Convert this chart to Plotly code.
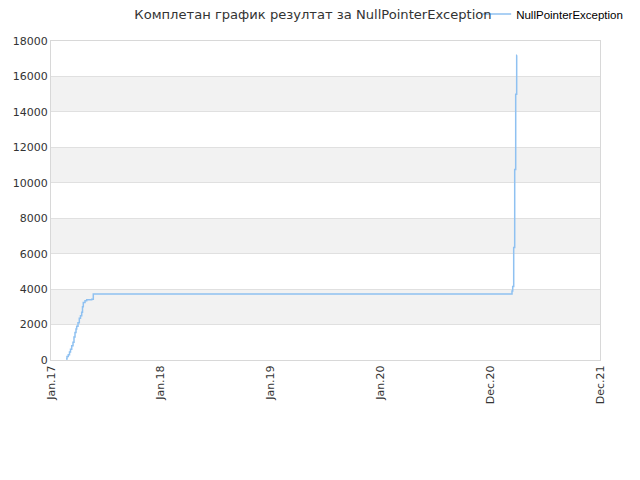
import plotly.graph_objects as go

# x positions in axis units (one unit per labelled tick)
x_pos = [0.1366, 0.1457, 0.1576, 0.1685, 0.1776, 0.1885, 0.2004, 0.2095, 0.2186, 0.2277,
         0.2341, 0.2459, 0.2577, 0.2687, 0.2796, 0.2869, 0.2942, 0.3097, 0.3251, 0.3707,
         0.3852, 4.1985, 4.2049, 4.2140, 4.2231, 4.2322, 4.2413, 4.2441]
values = [50, 200, 300, 450, 600, 800, 1000, 1300, 1550, 1750,
          1900, 2100, 2350, 2500, 2700, 3000, 3250, 3350, 3400, 3430,
          3720, 3900, 4150, 6350, 10750, 15000, 17200, 17200]

tick_vals = [0, 1, 2, 3, 4, 5]
tick_text = ["Jan.17", "Jan.18", "Jan.19", "Jan.20", "Dec.20", "Dec.21"]
y_ticks = [0, 2000, 4000, 6000, 8000, 10000, 12000, 14000, 16000, 18000]
bands = [(2000, 4000), (6000, 8000), (10000, 12000), (14000, 16000)]

fig = go.Figure()
fig.add_trace(go.Scatter(
    x=x_pos, y=values, mode="lines", line_shape="hv",
    line=dict(color="#8fc1f1", width=1.5),
    name="NullPointerException", showlegend=True,
))

shapes = []
for lo, hi in bands:
    shapes.append(dict(type="rect", xref="paper", yref="y", x0=0, x1=1, y0=lo, y1=hi,
                       fillcolor="#f2f2f2", line=dict(width=0), layer="below"))

fig.update_layout(
    width=640, height=480,
    margin=dict(l=43, r=48, t=33, b=128, autoexpand=False),
    paper_bgcolor="white", plot_bgcolor="white",
    font=dict(family="DejaVu Sans", color="#333333"),
    title=dict(text="Комплетан график резултат за NullPointerException",
               xref="container", yref="container",
               x=0.4766, xanchor="center", y=0.9875, yanchor="middle",
               font=dict(family="DejaVu Sans", size=13.1, color="#333333")),
    showlegend=True,
    legend=dict(xref="container", yref="container", x=0.969, xanchor="right",
                y=0.9875, yanchor="middle", orientation="h", bgcolor="white",
                font=dict(family="Liberation Sans", size=11.5, color="black"),
                itemwidth=30),
    shapes=shapes,
    xaxis=dict(range=[0, 5], tickmode="array", tickvals=tick_vals, ticktext=tick_text,
               tickangle=-90, showgrid=False, zeroline=False,
               showline=True, linecolor="#d8d8d8", mirror=True, automargin=False,
               tickfont=dict(size=11, color="#333333"), ticks=""),
    yaxis=dict(range=[0, 18000], tickmode="array", tickvals=y_ticks, tickformat="d",
               showgrid=True, gridcolor="#e0e0e0", zeroline=False,
               showline=True, linecolor="#d8d8d8", mirror=True, automargin=False,
               tickfont=dict(size=11, color="#333333"), ticks=""),
)

fig.write_html("out.html")
